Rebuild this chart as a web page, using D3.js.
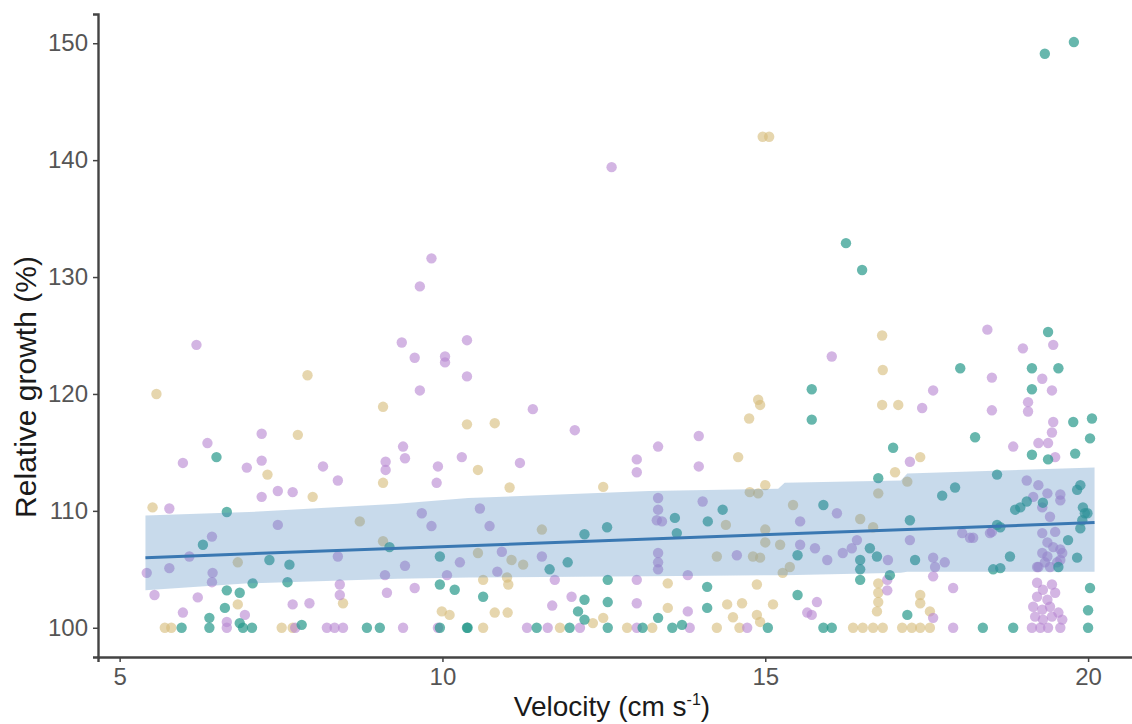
<!DOCTYPE html>
<html>
<head>
<meta charset="utf-8">
<script src="https://cdn.jsdelivr.net/npm/d3@7"></script>
<style>
  body { margin: 0; background: #fff; }
  svg { display: block; font-family: "Liberation Sans", Arial, sans-serif; }
</style>
</head>
<body>
<svg width="1132" height="724"></svg>
<script>
// velocity (cm/s), relative growth (%)
const purplePts = [
  [12.62,139.4],[9.83,131.6],[9.65,129.2],
  [6.19,124.2],[9.37,124.4],[9.57,123.1],[10.04,123.2],[10.04,122.7],[9.65,120.3],
  [10.38,124.6],[10.38,121.5],[11.4,118.7],[12.05,116.9],[10.3,114.6],[11.2,114.1],
  [13.01,114.4],[13.01,113.3],[13.34,115.5],[13.97,116.4],[13.97,113.8],
  [16.03,123.2],[17.43,118.8],[17.6,120.3],[18.44,125.5],[18.99,123.9],[19.46,124.2],
  [18.51,121.4],[19.29,121.3],[19.44,120.3],[19.07,119.3],[19.07,118.5],[18.51,118.6],
  [19.46,117.6],[19.44,116.7],[19.23,115.8],[19.38,115.8],[18.84,115.5],[19.49,114.6],[17.24,114.2],
  [6.36,115.8],[5.98,114.1],[7.2,116.6],[7.2,114.3],[6.97,113.7],[8.15,113.8],[8.38,112.6],
  [9.12,114.2],[9.12,113.5],[9.39,115.5],[9.42,114.5],[9.93,113.8],[9.91,112.4],[7.2,111.2],
  [7.45,111.7],[7.68,111.6],[5.77,110.2],[7.45,108.8],[9.68,109.8],[9.83,108.7],[6.43,107.8],
  [6.08,106.1],[8.38,106.1],[5.42,104.7],[5.77,105.1],[6.44,104.7],[6.43,103.9],[9.42,105.3],
  [9.11,104.5],[10.07,104.5],[5.54,102.8],[6.21,102.6],[8.41,103.7],[8.41,102.8],[9.14,103.0],
  [9.57,103.4],[7.68,102.0],[7.94,102.1],[5.98,101.3],[6.94,101.1],[6.66,100.5],[6.66,100],
  [8.21,100],[8.33,100],[8.46,100],[9.39,100],[9.93,100],[7.72,100],
  [10.27,105.6],[10.58,110.2],[10.73,108.7],[10.92,106.5],[11.54,106.1],[10.85,104.8],
  [11.74,104.1],[13.01,104.1],[12.0,102.65],[13.01,102.1],[11.7,101.9],[11.31,100],[11.63,100],
  [12.13,100],[13.01,100],
  [13.34,111.1],[13.34,110.1],[13.32,109.2],[13.4,109.1],[14.03,110.8],[13.34,106.4],
  [13.34,105.6],[13.34,105.0],[14.56,106.2],[13.8,104.5],[13.8,101.4],[13.83,100],[14.72,100],
  [16.11,109.8],[15.54,109.1],[17.24,107.5],[19.15,111.2],[19.37,111.5],[19.57,110.9],
  [18.51,108.2],[18.05,108.1],[18.17,107.7],[15.54,107.1],[15.77,106.8],[15.96,105.8],
  [16.2,106.4],[16.34,106.8],[16.42,107.5],[16.9,105.8],[17.6,106.0],[17.63,105.2],[17.6,104.4],
  [17.78,105.6],[17.91,103.4],[19.21,105.2],[19.37,106.1],[19.52,105.6],[19.6,106.4],
  [19.46,106.9],[16.89,104.1],[16.89,103.2],[17.6,100.85],[15.8,102.2],[15.65,101.3],
  [15.72,101.1],[17.91,100],[19.05,112.6],[19.23,112.2],[19.29,110.3],[19.41,109.5],
  [19.57,111.4],[19.29,108.1],[19.37,107.3],[19.29,106.4],[19.33,105.6],[19.23,105.2],
  [19.41,105.2],[19.57,106.7],[19.57,105.8],[19.49,108.2],[18.48,108.1],[18.22,107.7],
  [19.21,103.85],[19.3,103.25],[19.44,103.7],[19.49,103.0],[19.21,102.65],[19.37,102.4],
  [19.15,101.8],[19.29,101.55],[19.41,101.8],[19.54,101.3],[19.18,100.95],[19.3,100.7],
  [19.44,100.95],[19.6,100.7],[19.13,100],[19.26,100],[19.38,100],[19.57,100]
];

const tealPts = [
  [19.33,149.1],[19.78,150.1],[16.25,132.9],[16.5,130.6],[15.72,120.4],[15.72,117.8],
  [18.02,122.2],[19.38,125.3],[19.13,122.2],[19.54,122.2],[19.13,120.4],[19.77,117.6],
  [20.06,117.9],[20.03,116.2],[18.25,116.3],[19.13,114.8],[19.38,114.4],[19.8,114.9],
  [16.98,115.4],[16.75,112.8],[17.74,111.3],[17.94,112.0],[18.59,113.1],[19.83,111.8],
  [19.88,112.2],[15.9,110.5],[17.24,109.2],[18.87,110.1],[19.05,110.8],[19.3,110.7],
  [19.92,110.3],[19.95,109.8],[18.59,108.8],[15.5,106.2],[16.47,105.8],[16.47,105.0],
  [16.47,104.1],[16.62,106.8],[16.73,106.1],[16.93,104.5],[17.32,105.8],[18.53,105.0],
  [18.64,105.1],[18.79,106.1],[19.83,106.0],[17.2,101.1],[15.5,102.8],[15.9,100],[16.03,100],
  [18.37,100],[18.84,100],[19.99,109.8],[19.91,109.2],[19.88,108.5],[18.64,108.6],
  [19.69,107.5],[19.54,105.2],[20.03,103.4],[20.0,101.5],[20.0,100],[18.95,110.3],
  [6.5,114.6],[6.66,109.9],[6.29,107.1],[9.18,106.9],[9.96,106.1],[7.32,105.8],[7.63,105.4],
  [7.06,103.8],[7.6,103.9],[9.96,103.7],[6.66,103.2],[6.86,103.0],[6.63,101.7],[6.39,100.85],
  [6.39,100],[6.86,100.4],[6.91,100],[7.05,100],[5.96,100],[7.82,100.25],[8.83,100],[9.03,100],
  [10.19,103.25],[10.38,100],[9.96,100],
  [12.2,108.0],[12.55,108.6],[11.66,105.0],[11.94,105.6],[12.56,104.1],[10.63,102.65],
  [12.2,102.4],[12.56,102.2],[12.1,101.4],[12.2,100.7],[10.39,100],[11.46,100],[11.97,100],
  [12.56,100],
  [13.6,109.4],[13.63,108.1],[14.34,110.1],[14.11,109.1],[14.1,103.5],[14.1,101.7],
  [13.34,100.85],[13.56,100],[13.71,100.25],[15.04,100],[13.1,100]
];

const tanPts = [
  [14.96,142.0],[15.06,142.0],[5.57,120.0],[16.81,125.0],[16.82,122.05],[16.81,119.06],
  [17.06,119.06],[17.4,114.6],[17.01,113.3],[17.2,112.5],[16.75,111.5],[15.43,110.5],
  [16.47,109.3],[15.23,107.1],[15.38,105.2],[15.27,104.7],[16.75,103.8],[16.75,103.0],
  [16.75,102.2],[16.73,101.4],[17.4,102.8],[17.4,102.1],[17.55,101.4],[16.36,100],[16.51,100],
  [16.67,100],[16.82,100],[17.12,100],[17.27,100],[17.4,100],[17.55,100],[16.67,108.6],
  [15.0,108.4],[15.0,107.3],
  [7.91,121.6],[9.08,118.9],[7.76,116.5],[7.29,113.1],[9.08,112.4],[7.99,111.2],[5.51,110.3],
  [8.72,109.1],[9.08,107.4],[6.83,105.6],[8.46,102.1],[6.83,102.0],[5.7,100],[5.8,100],
  [7.51,100],[7.68,100],[9.99,101.4],[10.11,101.1],
  [10.38,117.4],[10.81,117.5],[10.55,113.5],[11.04,112.0],[12.49,112.05],[11.54,108.4],
  [10.55,106.4],[11.07,105.8],[11.25,105.4],[10.63,104.1],[11.0,104.3],[11.02,103.7],
  [10.81,101.3],[11.01,101.3],[12.33,100.4],[12.49,100.85],[10.63,100],[11.82,100],
  [12.86,100],[13.25,100],
  [14.58,114.6],[14.75,117.9],[14.89,119.5],[14.92,119.06],[15.0,112.2],[14.76,111.6],
  [14.89,111.5],[14.39,108.8],[14.25,106.1],[14.81,106.1],[14.92,106.0],[13.49,103.8],
  [14.87,103.7],[13.49,101.7],[14.41,102.0],[14.64,102.1],[15.12,102.0],[14.5,100.9],
  [14.87,101.1],[14.92,100.5],[14.25,100],[14.6,100]
];

// fitted line and its band
const fitX = [5.4, 20.1];
const fitY = [106.0, 109.0];
const bandX  = [5.4, 7.0, 9.3, 10.4, 13.2, 15.2, 15.3, 17.1, 17.2, 20.1];
const bandLo = [103.2, 103.8, 104.2, 104.3, 104.4, 104.5, 104.5, 104.7, 104.8, 104.8];
const bandHi = [109.6, 109.9, 110.6, 111.1, 111.7, 111.9, 112.4, 112.6, 113.2, 113.7];

const xTicks = [5, 10, 15, 20];
const yTicks = [100, 110, 120, 130, 140, 150];

const svg = d3.select("svg");
const mLeft = 98, mTop = 14, mBottom = 657, mRight = 1142;

const x = d3.scaleLinear().domain([4.665, 20.835]).range([mLeft, mRight]);
const y = d3.scaleLinear().domain([97.5, 152.5]).range([mBottom, mTop]);

// points
const groups = [
  {pts: tanPts,    color: "#d6bd7c", op: 0.62},
  {pts: purplePts, color: "#b888d2", op: 0.62},
  {pts: tealPts,   color: "#26998a", op: 0.7}
];
groups.forEach(g => {
  svg.append("g")
    .selectAll("circle")
    .data(g.pts)
    .join("circle")
      .attr("cx", d => x(d[0]))
      .attr("cy", d => y(d[1]))
      .attr("r", 5.2)
      .attr("fill", g.color)
      .attr("fill-opacity", g.op);
});

// confidence band
const band = bandX.map((v, i) => [v, bandLo[i], bandHi[i]]);
svg.append("path")
  .datum(band)
  .attr("fill", "#4a84bd")
  .attr("fill-opacity", 0.3)
  .attr("d", d3.area().x(d => x(d[0])).y0(d => y(d[1])).y1(d => y(d[2])));

svg.append("path")
  .datum(fitX.map((v, i) => [v, fitY[i]]))
  .attr("fill", "none")
  .attr("stroke", "#3a78b2")
  .attr("stroke-width", 3)
  .attr("d", d3.line().x(d => x(d[0])).y(d => y(d[1])));

// axes
const xAxis = svg.append("g")
  .attr("transform", `translate(0,${mBottom})`)
  .call(d3.axisBottom(x).tickValues(xTicks).tickSize(5).tickPadding(6).tickFormat(d3.format("d")));
const yAxis = svg.append("g")
  .attr("transform", `translate(${mLeft},0)`)
  .call(d3.axisLeft(y).tickValues(yTicks).tickSize(5).tickPadding(5).tickFormat(d3.format("d")));

[xAxis, yAxis].forEach(a => {
  a.select(".domain").attr("stroke", "#444").attr("stroke-width", 2.4);
  a.selectAll(".tick line").attr("stroke", "#444").attr("stroke-width", 1.5);
  a.selectAll(".tick text")
    .attr("fill", "#555")
    .style("font-size", "24px")
    .style("font-family", "'Liberation Sans', Arial, sans-serif");
});

// titles
const xt = svg.append("text")
  .attr("x", 612).attr("y", 716)
  .attr("text-anchor", "middle")
  .attr("fill", "#1a1a1a")
  .style("font-size", "28px");
xt.append("tspan").text("Velocity (cm s");
xt.append("tspan").text("-1").attr("dy", -11).style("font-size", "16px");
xt.append("tspan").text(")").attr("dy", 11);

svg.append("text")
  .attr("transform", "translate(36,387) rotate(-90)")
  .attr("text-anchor", "middle")
  .attr("fill", "#1a1a1a")
  .style("font-size", "30px")
  .text("Relative growth (%)");
</script>
</body>
</html>
